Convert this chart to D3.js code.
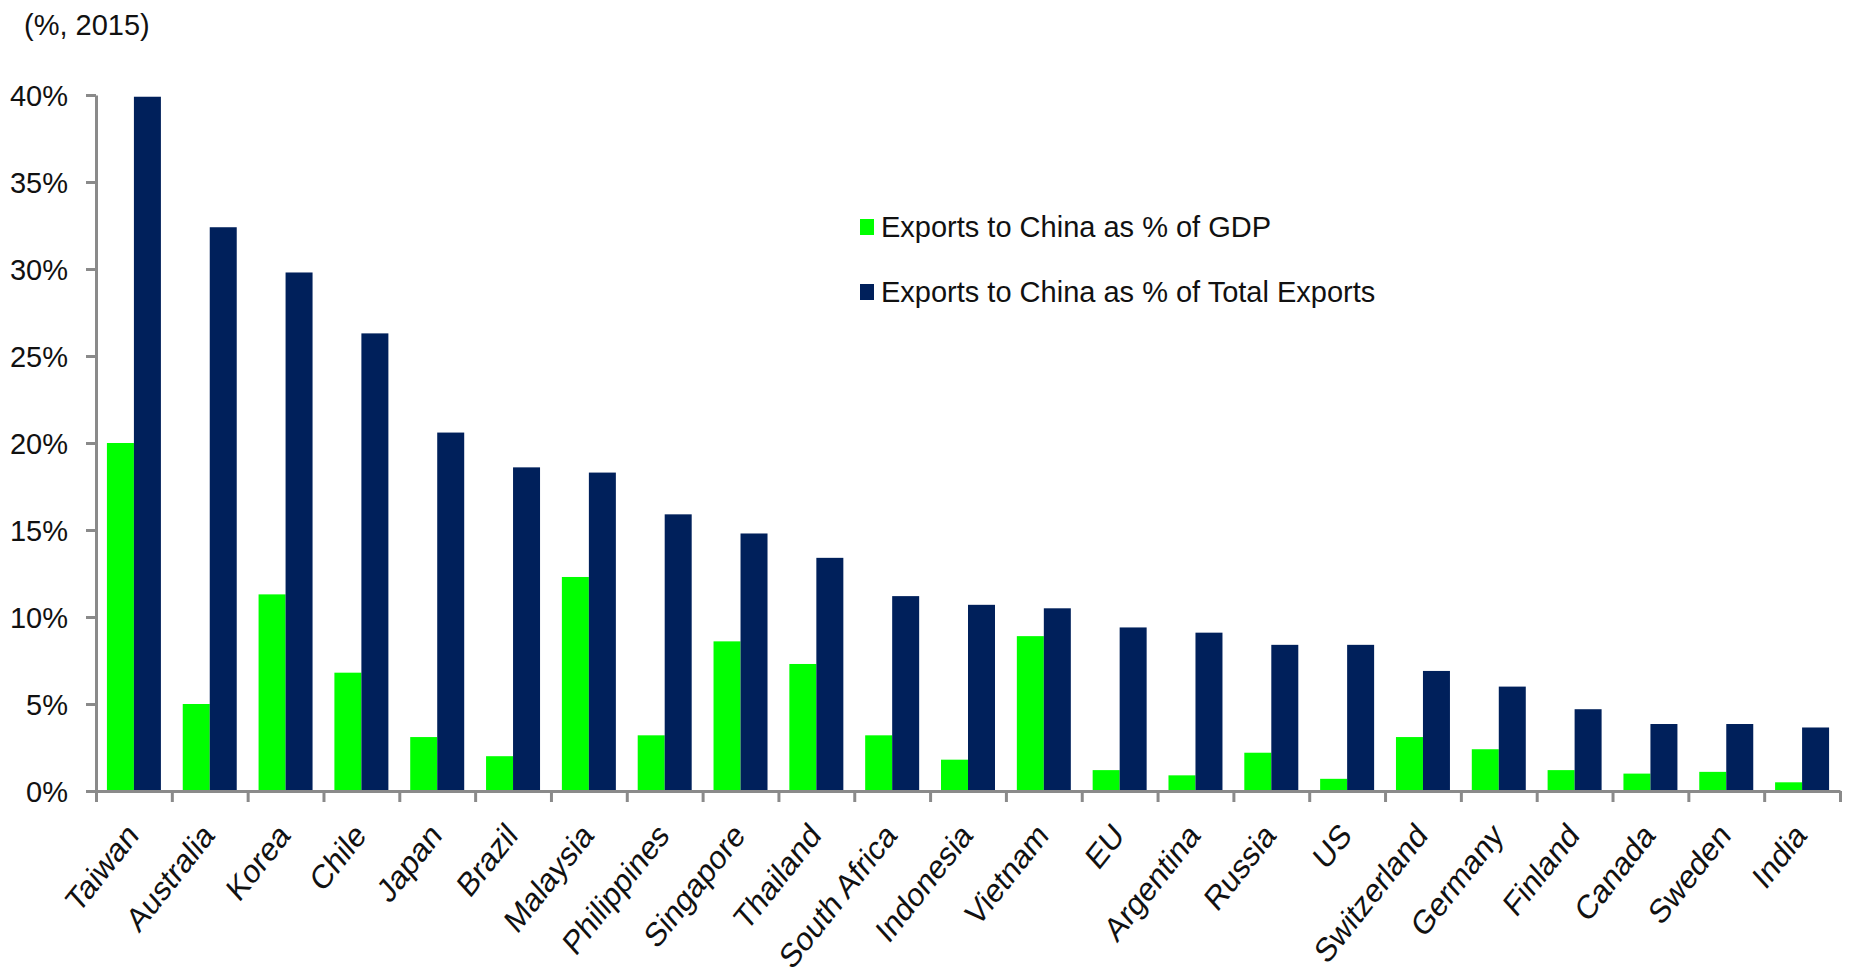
<!DOCTYPE html>
<html lang="en">
<head>
    <meta charset="UTF-8">
    <title>Exports to China</title>
    <script src="https://cdn.jsdelivr.net/npm/d3@7"></script>
    <style>
        body { margin: 0; background: #fff; }
        svg { display: block; font-family: "Liberation Sans", Arial, sans-serif; }
    </style>
</head>
<body>
    <svg id="chart" width="1851" height="976"></svg>
<script>
    // values (% , 2015)
    const countries = ["Taiwan", "Australia", "Korea", "Chile", "Japan", "Brazil", "Malaysia",
        "Philippines", "Singapore", "Thailand", "South Africa", "Indonesia", "Vietnam", "EU",
        "Argentina", "Russia", "US", "Switzerland", "Germany", "Finland", "Canada", "Sweden", "India"]
    const gdpShare = [20.0, 5.0, 11.3, 6.8, 3.1, 2.0, 12.3, 3.2, 8.6, 7.3, 3.2, 1.8, 8.9,
        1.2, 0.9, 2.2, 0.7, 3.1, 2.4, 1.2, 1.0, 1.1, 0.5]
    const totalShare = [39.9, 32.4, 29.8, 26.3, 20.6, 18.6, 18.3, 15.9, 14.8, 13.4, 11.2, 10.7, 10.5,
        9.4, 9.1, 8.4, 8.4, 6.9, 6.0, 4.7, 3.85, 3.85, 3.65]
    const seriesNames = ["Exports to China as % of GDP", "Exports to China as % of Total Exports"]
    const seriesColors = ["#00ff00", "#00205b"]
    const yTicks = [0, 5, 10, 15, 20, 25, 30, 35, 40]

    const svg = d3.select("#chart")
    const plotLeft = 96, plotRight = 1840, plotTop = 95, plotBottom = 791
    const axisColor = "#8a8a8a"

    let x = d3.scaleBand().domain(countries).range([plotLeft, plotRight]).paddingInner(0.288).paddingOuter(0.144)
    let sub = d3.scaleBand().domain([0, 1]).range([0, x.bandwidth()])
    let y = d3.scaleLinear().domain([0, 40]).range([plotBottom, plotTop])

    let rows = countries.map((c, i) => ({ name: c, vals: [gdpShare[i], totalShare[i]] }))

    // bars
    let groups = svg.append("g").selectAll("g").data(rows)
        .enter().append("g")
        .attr("transform", d => "translate(" + x(d.name) + ",0)")
    groups.selectAll("rect").data(d => d.vals)
        .enter().append("rect")
        .attr("x", (d, i) => sub(i))
        .attr("width", sub.bandwidth())
        .attr("y", d => y(d))
        .attr("height", d => plotBottom - y(d))
        .attr("fill", (d, i) => seriesColors[i])

    // y axis
    let yaxis = d3.axisLeft(y).tickValues(yTicks).tickSize(10).tickSizeOuter(0).tickFormat(d => d + "%")
    let yg = svg.append("g").attr("transform", "translate(" + plotLeft + ",0)").call(yaxis)
    yg.selectAll("path, line").attr("stroke", axisColor).attr("stroke-width", 3)
    yg.selectAll("text").attr("font-size", 29).attr("fill", "#111")
        .attr("x", -28).attr("dy", "0.36em").attr("font-family", "Liberation Sans, Arial, sans-serif")

    // x axis, ticks at category boundaries
    let edge = d3.scaleLinear().domain([0, countries.length]).range([plotLeft, plotRight])
    let xaxis = d3.axisBottom(edge).tickValues(d3.range(countries.length + 1)).tickSize(11)
        .tickSizeOuter(0).tickFormat("")
    let xg = svg.append("g").attr("transform", "translate(0," + plotBottom + ")").call(xaxis)
    xg.selectAll("path, line").attr("stroke", axisColor).attr("stroke-width", 3)

    // category labels (slanted, a bit squeezed sideways like the source)
    svg.append("g").selectAll("text").data(countries)
        .enter().append("text")
        .text(d => d)
        .attr("font-size", 34)
        .attr("fill", "#111")
        .attr("text-anchor", "end")
        .attr("transform", d => "translate(" + (x(d) + x.bandwidth() / 2 + 6) + "," + (plotBottom + 46) + ") scale(0.85,1) rotate(-47)")

    // unit label
    svg.append("text").text("(%, 2015)")
        .attr("x", 24).attr("y", 35)
        .attr("font-size", 29).attr("fill", "#111")

    // legend
    let legend = svg.append("g").selectAll("g").data(seriesNames)
        .enter().append("g")
        .attr("transform", (d, i) => "translate(860," + (219 + i * 65) + ")")
    legend.append("rect")
        .attr("width", 14).attr("height", 16)
        .attr("fill", (d, i) => seriesColors[i])
    legend.append("text")
        .text(d => d)
        .attr("x", 21).attr("y", 18)
        .attr("font-size", 29).attr("fill", "#111")
</script>
</body>
</html>
